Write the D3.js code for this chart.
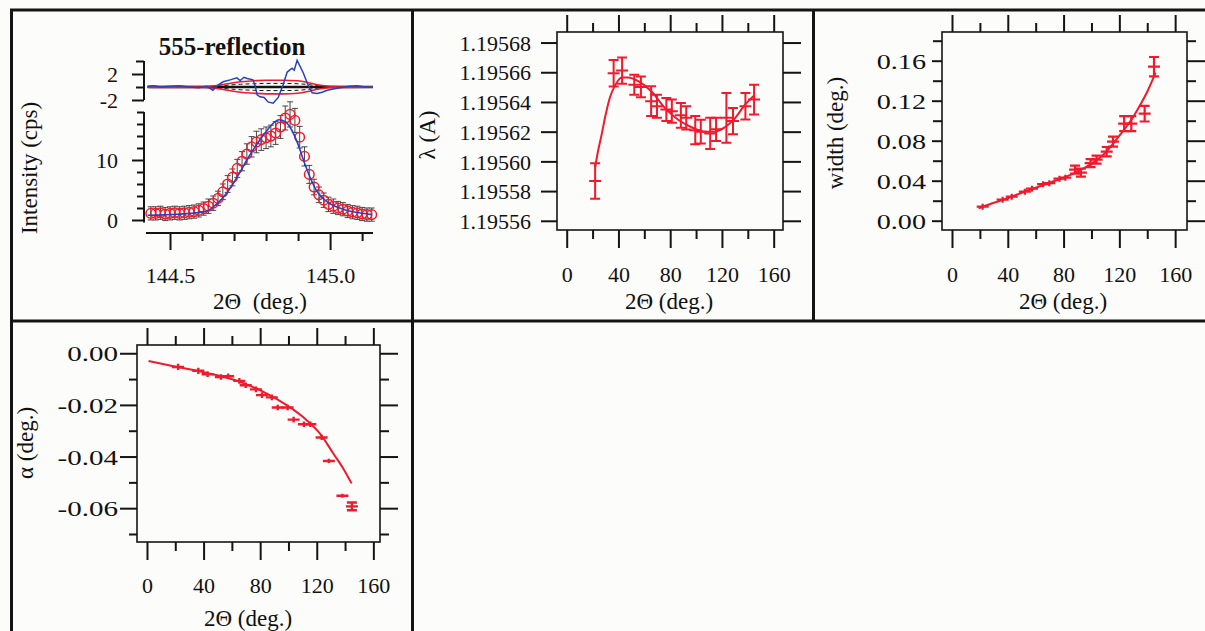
<!DOCTYPE html>
<html>
<head>
<meta charset="utf-8">
<script src="https://cdn.jsdelivr.net/npm/d3@7"></script>
<style>
  html, body { margin: 0; padding: 0; background: #fcfcfa; }
  svg { display: block; }
</style>
</head>
<body>
<script>
// ---------- 555 reflection: measured profile, fit, residual ----------
const profile2Theta = [144.440,144.455,144.470,144.485,144.500,144.515,144.530,144.545,144.560,144.575,
  144.590,144.605,144.620,144.635,144.650,144.665,144.680,144.695,144.710,144.725,
  144.740,144.755,144.770,144.785,144.800,144.815,144.830,144.845,144.860,144.875,
  144.890,144.905,144.920,144.935,144.950,144.965,144.980,144.995,145.010,145.025,
  145.040,145.055,145.070,145.085,145.100,145.115,145.130];
const profileCounts = [1.1,1.1,1.2,1.0,1.1,1.2,1.1,1.2,1.3,1.4,
  1.6,1.9,2.3,2.8,3.6,4.7,6.0,7.1,8.6,9.8,
  11.0,12.2,13.0,13.4,13.7,14.0,14.5,15.5,17.0,17.6,
  16.6,13.8,10.6,7.6,5.5,4.2,3.3,2.6,2.3,2.0,
  1.8,1.5,1.3,1.2,1.0,0.9,0.9];
const profileErr = [1.1,1.1,1.1,1.1,1.1,1.1,1.1,1.1,1.1,1.1,
  1.1,1.1,1.2,1.2,1.2,1.3,1.4,1.4,1.5,1.6,
  1.7,1.7,1.8,1.8,1.8,1.8,1.9,1.9,2.0,2.1,
  2.0,1.8,1.6,1.5,1.3,1.3,1.2,1.2,1.2,1.1,
  1.1,1.1,1.1,1.1,1.1,1.1,1.1];
const profileFit2Theta = [144.43,144.48,144.52,144.56,144.60,144.62,144.64,144.66,144.68,144.70,
  144.72,144.74,144.76,144.78,144.80,144.82,144.84,144.86,144.88,144.90,
  144.92,144.94,144.96,144.98,145.00,145.03,145.06,145.09,145.13];
const profileFit = [0.8,0.85,0.95,1.1,1.35,1.6,2.4,3.4,4.7,6.3,
  8.1,10.0,11.7,13.3,14.7,16.0,16.7,16.4,15.0,12.6,
  9.5,6.8,4.7,3.5,2.7,2.0,1.5,1.2,0.9];
const residual2Theta = [144.43,144.45,144.47,144.50,144.53,144.56,144.59,144.615,144.634,144.65,
  144.666,144.688,144.709,144.719,144.731,144.741,144.759,144.766,144.772,144.781,
  144.794,144.806,144.822,144.838,144.853,144.866,144.881,144.888,144.897,144.916,
  144.931,144.944,144.959,144.975,144.991,145.01,145.031,145.06,145.084,145.11,145.134];
const residual = [0.1,0.2,0.0,0.1,0.2,0.0,-0.1,0.1,-0.5,0.3,
  0.8,1.1,1.4,1.0,1.5,1.3,1.1,0.2,-1.2,-1.5,
  -1.6,-2.3,-2.5,-1.6,0.3,2.3,2.9,2.6,4.1,2.2,
  0.3,-0.9,-1.0,-0.8,-0.5,-0.3,-0.1,0.1,0.2,0.0,0.0];
const envelope2Theta = [144.43,144.60,144.64,144.68,144.72,144.76,144.80,144.85,144.90,144.93,144.96,145.00,145.134];
const envelopeOuter = [0.05,0.08,0.2,0.5,0.8,0.95,1.05,1.05,0.95,0.7,0.35,0.12,0.05];
const envelopeInner = [0.03,0.05,0.12,0.28,0.42,0.5,0.55,0.55,0.5,0.38,0.2,0.07,0.03];

// ---------- refined parameters for each reflection ----------
const twoTheta = [21.98,36.28,42.83,52.24,57.35,65.27,69.77,77.03,81.27,88.24,
  92.41,99.38,103.66,110.92,115.46,123.45,128.56,138.14,144.84];
const lambdaVals = [1.1955868,1.1956593,1.1956611,1.1956516,1.1956501,1.1956405,1.1956371,1.1956349,1.1956338,1.1956310,
  1.1956293,1.1956210,1.1956200,1.1956188,1.1956216,1.1956293,1.1956271,1.1956371,1.1956416];
const lambdaErr = [0.0000119,0.0000089,0.0000089,0.0000067,0.0000070,0.0000100,0.0000078,0.0000078,0.0000078,0.0000083,
  0.0000078,0.0000095,0.0000080,0.0000105,0.0000078,0.0000167,0.0000089,0.0000089,0.0000100];
const lambdaFit2Theta = [22,24,27,30,33.4,37.3,42.5,47.6,55.3,65.6,75.9,86.2,96.5,106.8,114.5,122.2,130,137.7,144.5];
const lambdaFit = [1.195596,1.195606,1.195618,1.195631,1.195643,1.195651,1.1956565,1.1956565,1.195654,1.195647,
  1.195636,1.195628,1.195623,1.195620,1.195620,1.195623,1.195629,1.195638,1.195644];

const widthVals = [0.014,0.021,0.024,0.029,0.032,0.0365,0.0375,0.042,0.043,0.051,
  0.048,0.0575,0.061,0.069,0.079,0.097,0.097,0.107,0.154];
const widthErr = [0.003,0.003,0.003,0.003,0.003,0.003,0.003,0.003,0.003,0.004,
  0.004,0.004,0.004,0.0047,0.005,0.0075,0.0075,0.0078,0.0097];
const widthFit2Theta = [19,30,40,50,60,70,80,90,100,110,120,130,135,140,146];
const widthFit = [0.0124,0.018,0.0225,0.028,0.033,0.038,0.043,0.049,0.057,0.068,0.085,0.104,0.116,0.129,0.148];

const alphaVals = [-0.0053,-0.0068,-0.0081,-0.0092,-0.0089,-0.0107,-0.0124,-0.0140,-0.0162,-0.0171,
  -0.0210,-0.0210,-0.0257,-0.0275,-0.0275,-0.0326,-0.0417,-0.0552,-0.0593];
const alphaErr = [0.0012,0.0012,0.0011,0.0011,0.0011,0.0011,0.0011,0.0011,0.0011,0.0011,
  0.0011,0.0011,0.0011,0.0011,0.0011,0.0010,0.0008,0.0008,0.0015];
const alphaFit2Theta = [1.1,18.8,42.3,65.8,84.7,98.8,112.9,122.3,131.7,138.7,144.6];
const alphaFit = [-0.003,-0.005,-0.0076,-0.0111,-0.0156,-0.0201,-0.0259,-0.0311,-0.0388,-0.0446,-0.0504];

// ---------- tick values ----------
const thetaTicks = [0,40,80,120,160];
const thetaMinor = [20,60,100,140];
const profileTicks = [144.5,145.0];
const profileMinor = [144.6,144.7,144.8,144.9,145.1];
const countTicks = [0,10];
const countMinor = [2,4,6,8,12,14,16,18];
const residualTicks = [-2,2];
const residualMinor = [0,4];
const lambdaTicks = [1.19556,1.19558,1.19560,1.19562,1.19564,1.19566,1.19568];
const widthTicks = [0,0.04,0.08,0.12,0.16];
const widthMinor = [0.02,0.06,0.10,0.14,0.18];
const alphaTicks = [0,-0.02,-0.04,-0.06];
const alphaMinor = [-0.01,-0.03,-0.05,-0.07];

// ---------- drawing ----------
const RED = "#f01a2c", BLUE = "#2741c2", INK = "#141414", TEXT = "#111";
const FONT = '"Liberation Serif","Times New Roman",serif';
const fmt = d3.formatLocale({decimal: ".", thousands: ",", grouping: [3], currency: ["", ""], minus: "-"});

const svg = d3.select("body").append("svg")
  .attr("width", 1205).attr("height", 631)
  .style("font-family", FONT);
svg.append("rect").attr("width", 1205).attr("height", 631).attr("fill", "#fcfcfa");

function styleAxis(sel) {
  sel.select(".domain").remove();
  sel.selectAll("line").attr("stroke", INK).attr("stroke-width", 2);
  sel.selectAll("text").attr("fill", TEXT).style("font-size", "22px").style("font-family", FONT);
  return sel;
}
function axisAt(g, axis, tx, ty) {
  return styleAxis(g.append("g").attr("transform", `translate(${tx},${ty})`).call(axis));
}
function text(g, str, x, y, opts = {}) {
  const t = g.append("text").attr("x", x).attr("y", y)
    .attr("text-anchor", opts.anchor || "middle")
    .attr("fill", TEXT)
    .style("font-size", (opts.size || 23) + "px")
    .style("font-weight", opts.weight || "normal")
    .text(str);
  if (opts.rotate) t.attr("transform", `rotate(-90,${x},${y})`).attr("dy", "0.35em");
  return t;
}
// "+" markers with vertical error bars; caps only where the bar is long enough to show them
function errorCrosses(g, x, y, xs, vs, es, cap, bar, sw) {
  const pts = xs.map((t, i) => ({t, v: vs[i], e: es[i]}));
  g.append("g").attr("fill", "none").attr("stroke", RED).attr("stroke-width", sw)
    .selectAll("path").data(pts).join("path")
    .attr("d", p => {
      const cx = x(p.t), cy = y(p.v), y0 = y(p.v - p.e), y1 = y(p.v + p.e);
      let d = `M${cx},${y0}V${y1}M${cx - bar},${cy}H${cx + bar}`;
      if (Math.abs(y0 - cy) > 3.5) d += `M${cx - cap},${y0}H${cx + cap}M${cx - cap},${y1}H${cx + cap}`;
      return d;
    });
}
function fitLine(g, x, y, xs, vs, color, width) {
  const line = d3.line().x(d => x(d[0])).y(d => y(d[1])).curve(d3.curveMonotoneX);
  g.append("path").datum(xs.map((t, i) => [t, vs[i]]))
    .attr("fill", "none").attr("stroke", color).attr("stroke-width", width).attr("d", line);
}

// Boxed parameter panel (wavelength, width, asymmetry vs 2Θ)
function paramPanel(c) {
  const g = svg.append("g");
  const x = d3.scaleLinear().domain(c.xDomain).range([c.left, c.right]);
  const y = d3.scaleLinear().domain(c.yDomain).range([c.bottom, c.top]);

  const bx = axisAt(g, d3.axisBottom(x).tickValues(thetaTicks).tickSize(18).tickFormat(d3.format("d")), 0, c.bottom);
  bx.selectAll("text").attr("y", c.xLabelY - c.bottom).attr("dy", null);
  axisAt(g, d3.axisBottom(x).tickValues(thetaMinor).tickSize(9).tickFormat(""), 0, c.bottom);
  axisAt(g, d3.axisTop(x).tickValues(thetaTicks).tickSize(17).tickFormat(""), 0, c.top);
  axisAt(g, d3.axisTop(x).tickValues(thetaMinor).tickSize(9).tickFormat(""), 0, c.top);

  const ly = axisAt(g, d3.axisLeft(y).tickValues(c.yTicks).tickSize(c.leftMajor).tickFormat(c.yFormat), c.left, 0);
  // value labels, right-aligned, widened horizontally where the type is set wide
  ly.selectAll("text").attr("x", 0).attr("dy", "0.35em")
    .attr("transform", `translate(${c.yLabelX - c.left},0) scale(${c.labelStretch},1)`);
  axisAt(g, d3.axisRight(y).tickValues(c.yTicks).tickSize(18).tickFormat(""), c.right, 0);
  if (c.yMinor) {
    axisAt(g, d3.axisLeft(y).tickValues(c.yMinor).tickSize(c.leftMinor).tickFormat(""), c.left, 0);
    axisAt(g, d3.axisRight(y).tickValues(c.yMinor).tickSize(9).tickFormat(""), c.right, 0);
  }

  g.append("rect").attr("x", c.left).attr("y", c.top)
    .attr("width", c.right - c.left).attr("height", c.bottom - c.top)
    .attr("fill", "none").attr("stroke", INK).attr("stroke-width", 1.6);

  fitLine(g, x, y, c.fitX, c.fitY, RED, 2);
  errorCrosses(g, x, y, twoTheta, c.values, c.errors, c.cap, c.bar, c.markWidth);

  text(g, "2Θ (deg.)", c.xTitleX, c.xTitleY);
  text(g, c.yTitle, c.yTitleX, c.yTitleY, {rotate: true});
}

paramPanel({
  left: 557, right: 783, top: 32, bottom: 230,
  xDomain: [-7.5, 167.2], yDomain: [1.1955538, 1.1956871],
  yTicks: lambdaTicks, yFormat: fmt.format(".5f"), labelStretch: 1,
  leftMajor: 16, leftMinor: 9, yLabelX: 531, xLabelY: 282,
  values: lambdaVals, errors: lambdaErr, fitX: lambdaFit2Theta, fitY: lambdaFit,
  cap: 5, bar: 6, markWidth: 2,
  xTitleX: 669, xTitleY: 309, yTitle: "λ (A)", yTitleX: 427, yTitleY: 135
});

paramPanel({
  left: 942, right: 1187, top: 32, bottom: 230,
  xDomain: [-7.17, 168.5], yDomain: [-0.0093, 0.1887],
  yTicks: widthTicks, yMinor: widthMinor, yFormat: fmt.format(".2f"), labelStretch: 1.28,
  leftMajor: 10, leftMinor: 9, yLabelX: 926, xLabelY: 282,
  values: widthVals, errors: widthErr, fitX: widthFit2Theta, fitY: widthFit,
  cap: 5, bar: 6, markWidth: 2.2,
  xTitleX: 1063, xTitleY: 309, yTitle: "width (deg.)", yTitleX: 835, yTitleY: 133
});

paramPanel({
  left: 137, right: 380, top: 345, bottom: 542,
  xDomain: [-7.06, 164.7], yDomain: [-0.0731, 0.0032],
  yTicks: alphaTicks, yMinor: alphaMinor, yFormat: fmt.format(".2f"), labelStretch: 1.32,
  leftMajor: 17, leftMinor: 8, yLabelX: 118, xLabelY: 593,
  values: alphaVals, errors: alphaErr, fitX: alphaFit2Theta, fitY: alphaFit,
  cap: 5, bar: 6, markWidth: 2.4,
  xTitleX: 248, xTitleY: 626, yTitle: "α (deg.)", yTitleX: 25, yTitleY: 443
});

// Profile panel: residual strip on top, intensity below
(function profilePanel() {
  const g = svg.append("g");
  const x = d3.scaleLinear().domain([144.425, 145.134]).range([146, 373]);
  const y = d3.scaleLinear().domain([-2.1667, 18]).range([233, 112]);
  const yr = d3.scaleLinear().domain([-2, 4]).range([100, 61]);

  // residual strip
  g.append("line").attr("x1", 144).attr("x2", 144).attr("y1", yr(4)).attr("y2", yr(-2))
    .attr("stroke", INK).attr("stroke-width", 2);
  const ra = axisAt(g, d3.axisLeft(yr).tickValues(residualTicks).tickSize(12).tickFormat(fmt.format("d")), 144, 0);
  ra.selectAll("text").attr("x", -26).attr("dy", "0.35em");
  axisAt(g, d3.axisLeft(yr).tickValues(residualMinor).tickSize(8).tickFormat(""), 144, 0);

  g.append("line").attr("x1", x(144.43)).attr("x2", x(145.134)).attr("y1", yr(0)).attr("y2", yr(0))
    .attr("stroke", INK).attr("stroke-width", 2.5);
  const env = d3.line().x(d => x(d[0])).y(d => yr(d[1])).curve(d3.curveMonotoneX);
  [1, -1].forEach(s => {
    g.append("path").datum(envelope2Theta.map((t, i) => [t, s * envelopeInner[i]]))
      .attr("fill", "none").attr("stroke", INK).attr("stroke-width", 1)
      .attr("stroke-dasharray", "4,3").attr("d", env);
    g.append("path").datum(envelope2Theta.map((t, i) => [t, s * envelopeOuter[i]]))
      .attr("fill", "none").attr("stroke", RED).attr("stroke-width", 1.6).attr("d", env);
  });
  g.append("path").datum(residual2Theta.map((t, i) => [t, residual[i]]))
    .attr("fill", "none").attr("stroke", BLUE).attr("stroke-width", 1.5)
    .attr("d", d3.line().x(d => x(d[0])).y(d => yr(d[1])));

  // intensity axes
  g.append("line").attr("x1", 144).attr("x2", 144).attr("y1", y(18)).attr("y2", y(-0.4))
    .attr("stroke", INK).attr("stroke-width", 2);
  const ya = axisAt(g, d3.axisLeft(y).tickValues(countTicks).tickSize(12).tickFormat(d3.format("d")), 144, 0);
  ya.selectAll("text").attr("x", -26).attr("dy", "0.35em");
  axisAt(g, d3.axisLeft(y).tickValues(countMinor).tickSize(7).tickFormat(""), 144, 0);

  g.append("line").attr("x1", 146).attr("x2", 373).attr("y1", 233).attr("y2", 233)
    .attr("stroke", INK).attr("stroke-width", 2);
  const xa = axisAt(g, d3.axisBottom(x).tickValues(profileTicks).tickSize(17).tickFormat(d3.format(".1f")), 0, 233);
  xa.selectAll("text").attr("y", 283 - 233).attr("dy", null);
  axisAt(g, d3.axisBottom(x).tickValues(profileMinor).tickSize(8).tickFormat(""), 0, 233);

  // error bars, observed points, fit
  const pts = profile2Theta.map((t, i) => ({t, v: profileCounts[i], e: profileErr[i]}));
  g.append("g").attr("stroke", "#333").attr("stroke-width", 0.9).attr("fill", "none")
    .selectAll("path").data(pts).join("path")
    .attr("d", p => {
      const cx = x(p.t), y0 = y(p.v - p.e), y1 = y(p.v + p.e);
      return `M${cx},${y0}V${y1}M${cx - 3},${y0}H${cx + 3}M${cx - 3},${y1}H${cx + 3}`;
    });
  g.append("g").attr("fill", "none").attr("stroke", RED).attr("stroke-width", 1.5)
    .selectAll("circle").data(pts).join("circle")
    .attr("cx", p => x(p.t)).attr("cy", p => y(p.v)).attr("r", 4.8);
  fitLine(g, x, y, profileFit2Theta, profileFit, BLUE, 1.6);

  text(g, "555-reflection", 232, 55, {size: 25, weight: "bold"});
  text(g, "2Θ\u00a0 (deg.)", 260, 309);
  text(g, "Intensity (cps)", 29, 168, {rotate: true});
})();

// panel frames
const frame = svg.append("g").attr("stroke", INK).attr("stroke-width", 3);
[[10, 10, 1205, 10], [10, 321, 1205, 321], [11.5, 10, 11.5, 631],
 [412.5, 10, 412.5, 631], [813.5, 10, 813.5, 321]].forEach(([x1, y1, x2, y2]) =>
  frame.append("line").attr("x1", x1).attr("y1", y1).attr("x2", x2).attr("y2", y2));
</script>
</body>
</html>
